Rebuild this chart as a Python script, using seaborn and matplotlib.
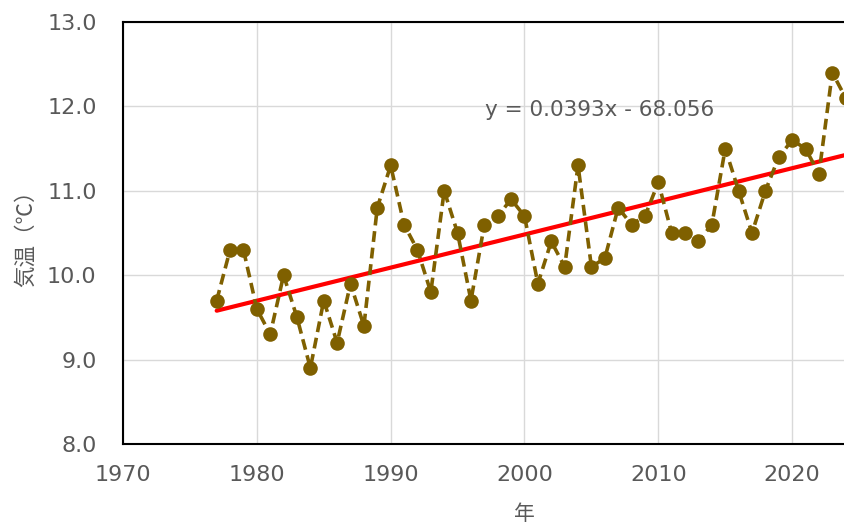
import matplotlib
matplotlib.use("Agg")
import matplotlib.pyplot as plt
import seaborn as sns
import pandas as pd
import numpy as np

years = list(range(1977, 2025))
temps = [9.7, 10.3, 10.3, 9.6, 9.3, 10.0, 9.5, 8.9, 9.7, 9.2,
         9.9, 9.4, 10.8, 11.3, 10.6, 10.3, 9.8, 11.0, 10.5, 9.7,
         10.6, 10.7, 10.9, 10.7, 9.9, 10.4, 10.1, 11.3, 10.1, 10.2,
         10.8, 10.6, 10.7, 11.1, 10.5, 10.5, 10.4, 10.6, 11.5, 11.0,
         10.5, 11.0, 11.4, 11.6, 11.5, 11.2, 12.4, 12.1]
x_ticks = [1970, 1980, 1990, 2000, 2010, 2020]
y_ticks = [8.0, 9.0, 10.0, 11.0, 12.0, 13.0]
equation = "y = 0.0393x - 68.056"
xlabel = "年"
ylabel = "気温（℃）"

df = pd.DataFrame({"year": years, "temp": temps})

sns.set_theme(style="white")
latin = ['DejaVu Sans', 'Noto Sans CJK JP']
cjk = ['Noto Sans CJK JP', 'DejaVu Sans']
plt.rcParams['font.family'] = latin

W, H = 845, 524
fig = plt.figure(figsize=(W / 100, H / 100), dpi=100)
left, right_px, top, bottom = 123, 926, 22, 444
ax = fig.add_axes([left / W, 1 - bottom / H, (right_px - left) / W, (bottom - top) / H])

gray = "#595959"
ax.grid(True, color="#d9d9d9", linewidth=1, zorder=0)
ax.set_axisbelow(True)

sns.regplot(data=df, x="year", y="temp", scatter=False, ci=None, ax=ax,
            line_kws=dict(color="#ff0000", linewidth=3, zorder=2))
sns.lineplot(data=df, x="year", y="temp", ax=ax, color="#7f6000",
             linewidth=2.6, linestyle=(0, (3.0, 1.6)), marker="o",
             markersize=10.5, markeredgewidth=0, zorder=3)

ax.set_xlim(1970, 2030)
ax.set_ylim(8.0, 13.0)
ax.set_xticks(x_ticks)
ax.set_yticks(y_ticks)
ax.set_xticklabels([str(t) for t in x_ticks])
ax.set_yticklabels([f"{t:.1f}" for t in y_ticks])
ax.tick_params(axis="both", direction="in", length=6, width=1.2, color="black",
               labelsize=16, labelcolor=gray)
ax.tick_params(axis="x", pad=15)
ax.tick_params(axis="y", pad=19)
for s in ax.spines.values():
    s.set_color("black")
    s.set_linewidth(1.5)

ax.set_xlabel(xlabel, fontsize=15, color=gray, labelpad=13, family=cjk)
ax.set_ylabel(ylabel, fontsize=15.5, color=gray, labelpad=7, family=cjk)

ax.text(2005.6, 11.96, equation, fontsize=15.5, color=gray, ha="center", va="center")

fig.savefig("out.png", dpi=100)
